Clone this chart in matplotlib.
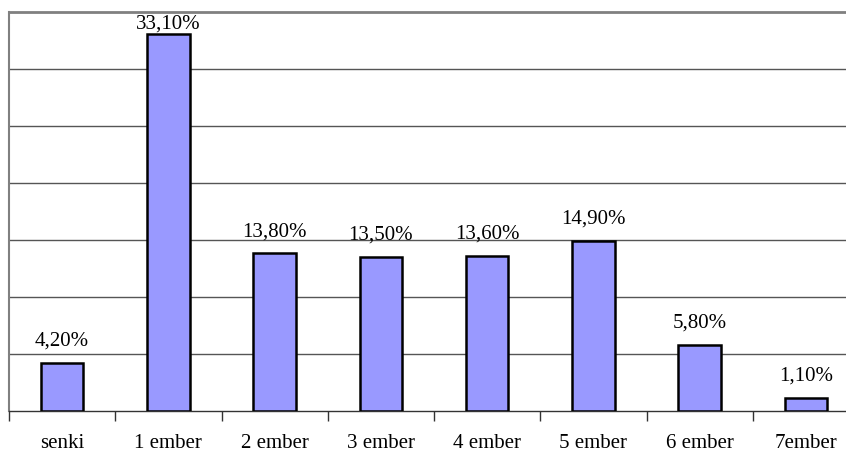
import matplotlib.pyplot as plt
import numpy as np

categories = ['senki', '1 ember', '2 ember', '3 ember', '4 ember', '5 ember', '6 ember', '7ember']
values = [4.2, 33.1, 13.8, 13.5, 13.6, 14.9, 5.8, 1.1]
labels = ['4,20%', '33,10%', '13,80%', '13,50%', '13,60%', '14,90%', '5,80%', '1,10%']

plt.rcParams['font.family'] = ['Liberation Serif', 'DejaVu Serif']

fig = plt.figure(figsize=(8.46, 4.52), dpi=100)
# plot area runs past the right edge, like the original sheet
ax = fig.add_axes([9 / 846, 40.3 / 452, 850 / 846, 398.7 / 452])

x = np.arange(len(categories))
ax.bar(x, values, width=0.4, color='#9999ff', edgecolor='black', linewidth=1.8, zorder=3)

for xi, v, lab in zip(x, values, labels):
    ax.text(xi, min(v + 2.0, 34.0), lab, ha='center', va='center', fontsize=15, zorder=4)

ax.set_xlim(-0.5, 7.5)
ax.set_ylim(0, 35)
ax.set_yticks([])
for g in range(5, 35, 5):
    ax.axhline(g, color='#555555', linewidth=1.0, zorder=1)

# ticks between categories, labels under each bar
ax.set_xticks(np.arange(-0.5, 8, 1))
ax.set_xticklabels([])
ax.tick_params(axis='x', which='major', length=7, width=1.0, color='#333333', direction='out')
ax.set_xticks(x, minor=True)
ax.set_xticklabels(categories, minor=True, fontsize=15)
ax.tick_params(axis='x', which='minor', length=0, pad=16)

ax.spines['right'].set_visible(False)
ax.spines['top'].set_color('#808080')
ax.spines['top'].set_linewidth(2.0)
ax.spines['left'].set_color('#808080')
ax.spines['left'].set_linewidth(1.5)
ax.spines['bottom'].set_color('#333333')
ax.spines['bottom'].set_linewidth(1.0)

fig.savefig('out.png', dpi=100)
